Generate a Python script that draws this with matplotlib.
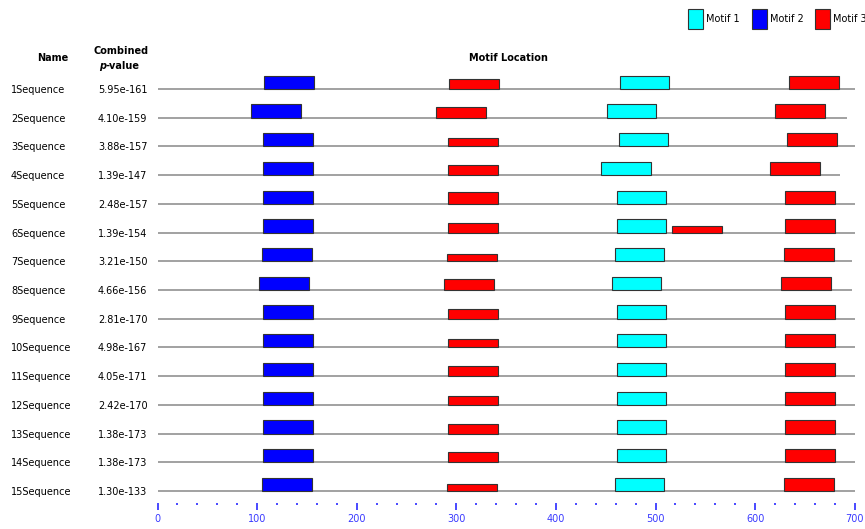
import matplotlib
matplotlib.use("Agg")
import matplotlib.pyplot as plt
from matplotlib.patches import Rectangle
from matplotlib.ticker import MultipleLocator

W, H = 865, 529

names = ["1Sequence", "2Sequence", "3Sequence", "4Sequence", "5Sequence",
         "6Sequence", "7Sequence", "8Sequence", "9Sequence", "10Sequence",
         "11Sequence", "12Sequence", "13Sequence", "14Sequence", "15Sequence"]
pvalues = ["5.95e-161", "4.10e-159", "3.88e-157", "1.39e-147", "2.48e-157",
           "1.39e-154", "3.21e-150", "4.66e-156", "2.81e-170", "4.98e-167",
           "4.05e-171", "2.42e-170", "1.38e-173", "1.38e-173", "1.30e-133"]
seq_len = [705, 692, 703, 685, 701, 701, 697, 697, 701, 701, 701, 701, 701, 701, 703]

motif_width = 50
# site start positions per motif column
motif2_start = [107, 94, 106, 106, 106, 106, 105, 102, 106, 106, 106, 106, 106, 106, 105]
motif3a_start = [293, 280, 292, 292, 292, 292, 291, 288, 292, 292, 292, 292, 292, 292, 291]
motif3a_score = [0.77, 0.8, 0.65, 0.75, 0.92, 0.75, 0.58, 0.8, 0.73, 0.62, 0.75, 0.7, 0.7, 0.75, 0.55]
motif1_start = [464, 451, 463, 445, 461, 461, 459, 456, 461, 461, 461, 461, 461, 461, 459]
motif3b_start = [634, 620, 632, 615, 630, 630, 629, 626, 630, 630, 630, 630, 630, 630, 629]
# extra weak site of motif 3 in sequence 6
extra_row = 6
extra_start = 517
extra_score = 0.5

motif_names = ["Motif 1", "Motif 2", "Motif 3"]
motif_colors = ["#00ffff", "#0000ff", "#ff0000"]

plt.rcParams['font.family'] = ['DejaVu Sans']

fig = plt.figure(figsize=(W / 100, H / 100), dpi=100)

# row lines: row 1 at y=89 px, spacing 28.714 px
row0_px, row_px = 89.0, 28.714
top_px, bot_px = 75.0, 503.0
x0_px, x_scale = 157.5, 0.996

def ypix(i):
    return 1 + (i - row0_px) / row_px

ax = fig.add_axes([x0_px / W, 1 - bot_px / H, 700 * x_scale / W, (bot_px - top_px) / H])
ax.set_xlim(0, 700)
ax.set_ylim(ypix(bot_px), ypix(top_px))
for s in ax.spines.values():
    s.set_visible(False)

rows = list(range(1, len(names) + 1))
ax.hlines(rows, 0, seq_len, color="#888888", lw=1.1, zorder=1)

full_h = 13.3 / row_px

def draw_sites(starts, scores, color):
    hts = [-full_h * s for s in scores]
    ax.bar(starts, hts, width=motif_width, bottom=rows, align='edge',
           color=color, edgecolor="#333333", linewidth=0.8, zorder=2)

draw_sites(motif2_start, [1.0] * len(rows), motif_colors[1])
draw_sites(motif3a_start, motif3a_score, motif_colors[2])
draw_sites(motif1_start, [1.0] * len(rows), motif_colors[0])
draw_sites(motif3b_start, [1.0] * len(rows), motif_colors[2])
ax.bar([extra_start], [-full_h * extra_score], width=motif_width, bottom=[extra_row],
       align='edge', color=motif_colors[2], edgecolor="#333333", linewidth=0.8, zorder=2)

axis_blue = "#3a3aff"
ax.set_yticks([])
ax.xaxis.set_major_locator(MultipleLocator(100))
ax.xaxis.set_minor_locator(MultipleLocator(20))
ax.tick_params(axis='x', which='major', length=5, width=1.3, color=axis_blue,
               labelcolor=axis_blue, labelsize=7, pad=3)
ax.tick_params(axis='x', which='minor', length=1.5, width=1.3, color=axis_blue)

def ftext(x, y, s, **kw):
    fig.text(x / W, 1 - y / H, s, **kw)

fs = 7
for i, (n, p) in enumerate(zip(names, pvalues)):
    y = row0_px + i * row_px + 1
    ftext(11, y, n, fontsize=fs, ha='left', va='center')
    ftext(98, y, p, fontsize=fs, ha='left', va='center')

ftext(53, 58, "Name", fontsize=fs, weight='bold', ha='center', va='center')
ftext(121, 51, "Combined", fontsize=fs, weight='bold', ha='center', va='center')
ftext(106, 66, "p", fontsize=fs, weight='bold', style='italic', ha='right', va='center')
ftext(106, 66, "-value", fontsize=fs, weight='bold', ha='left', va='center')
ftext(508, 58, "Motif Location", fontsize=fs, weight='bold', ha='center', va='center')

# legend
leg_x = [688, 752, 815]
for lx, name, col in zip(leg_x, motif_names, motif_colors):
    fig.add_artist(Rectangle((lx / W, 1 - 29 / H), 15 / W, 20 / H, transform=fig.transFigure,
                             facecolor=col, edgecolor="#333333", linewidth=0.8))
    ftext(lx + 18, 19, name, fontsize=fs, ha='left', va='center')

fig.savefig("out.png", dpi=100)
